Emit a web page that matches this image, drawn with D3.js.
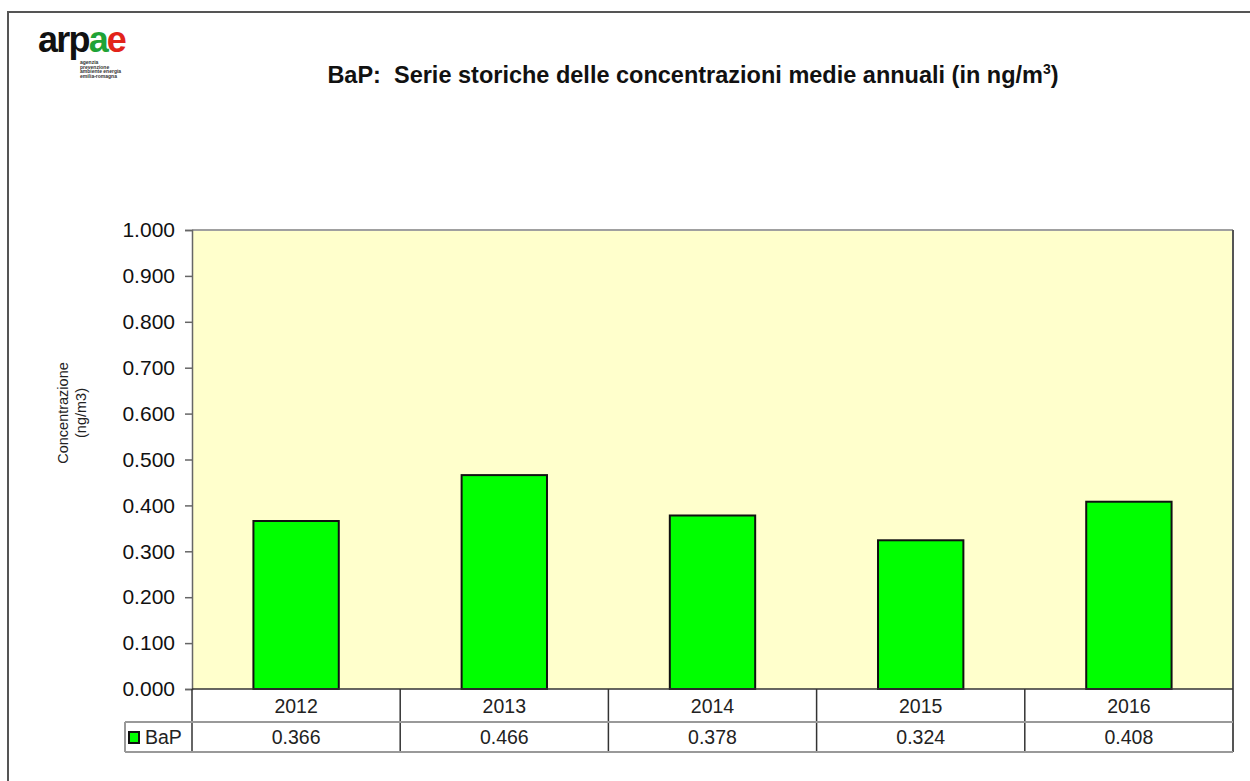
<!DOCTYPE html>
<html>
<head>
<meta charset="utf-8">
<script src="https://cdn.jsdelivr.net/npm/d3@7"></script>
<style>
  html, body { margin: 0; padding: 0; background: #fff; }
  svg { display: block; font-family: "Liberation Sans", Arial, sans-serif; }
</style>
</head>
<body>
<svg id="chart" width="1250" height="781"></svg>
<script>
const categories = ["2012", "2013", "2014", "2015", "2016"];
const values = [0.366, 0.466, 0.378, 0.324, 0.408];
const seriesName = "BaP";
const yTicks = [0, 0.1, 0.2, 0.3, 0.4, 0.5, 0.6, 0.7, 0.8, 0.9, 1.0];
const titleText = "BaP:  Serie storiche delle concentrazioni medie annuali (in ng/m";
const yLabelLines = ["Concentrazione", "(ng/m3)"];
const logoSubLines = ["agenzia", "prevenzione", "ambiente energia", "emilia-romagna"];

const svg = d3.select("#chart");
const W = 1250, H = 781;
const plot = { left: 192, right: 1233, top: 230, bottom: 689 };
const rowH1 = 33, rowH2 = 30;
const legendLeft = 125;

// outer frame (left and top only visible)
svg.append("path")
  .attr("d", `M8,${H} L8,12 L${W},12`)
  .attr("fill", "none").attr("stroke", "#555").attr("stroke-width", 2);

// logo
const logo = svg.append("text").attr("x", 38).attr("y", 52)
  .attr("font-family", "'Liberation Sans', Arial, sans-serif")
  .attr("font-weight", "bold").attr("font-size", 36).attr("letter-spacing", -1.8);
logo.append("tspan").attr("fill", "#111").text("arp");
logo.append("tspan").attr("fill", "#1fa336").text("a");
logo.append("tspan").attr("fill", "#e2231a").text("e");
svg.append("g").selectAll("text").data(logoSubLines).join("text")
  .attr("x", 80).attr("y", (d, i) => 64 + i * 4.6)
  .attr("font-size", 5).attr("font-weight", "bold").attr("fill", "#333")
  .text(d => d);

// title
const title = svg.append("text").attr("x", 693).attr("y", 83)
  .attr("text-anchor", "middle").attr("font-weight", "bold")
  .attr("font-size", 23.5).attr("fill", "#111")
  .style("white-space", "pre");
title.append("tspan").text(titleText);
title.append("tspan").attr("dy", -9).attr("font-size", 14).text("3");
title.append("tspan").attr("dy", 9).text(")");

// scales
const y = d3.scaleLinear().domain([0, 1]).range([plot.bottom, plot.top]);
const xCat = d3.scaleBand().domain(categories).range([plot.left, plot.right]).padding(0);
const xBar = d3.scaleBand().domain(categories).range([plot.left, plot.right])
  .paddingInner(0.59).paddingOuter(0.295);

// plot background
svg.append("rect")
  .attr("x", plot.left).attr("y", plot.top)
  .attr("width", plot.right - plot.left).attr("height", plot.bottom - plot.top)
  .attr("fill", "#ffffcc");
svg.append("line").attr("x1", plot.left).attr("x2", plot.right)
  .attr("y1", plot.top).attr("y2", plot.top).attr("stroke", "#a0a0a0").attr("stroke-width", 2);
svg.append("line").attr("x1", plot.right).attr("x2", plot.right)
  .attr("y1", plot.top).attr("y2", plot.bottom + rowH1 + rowH2).attr("stroke", "#555").attr("stroke-width", 2);

// bars
svg.append("g").selectAll("rect").data(values).join("rect")
  .attr("x", (d, i) => xBar(categories[i]))
  .attr("y", d => y(d))
  .attr("width", xBar.bandwidth())
  .attr("height", d => y(0) - y(d))
  .attr("fill", "#00ff00").attr("stroke", "#111").attr("stroke-width", 2);

// y axis
const yAxis = d3.axisLeft(y).tickValues(yTicks).tickFormat(d3.format(".3f")).tickSize(7).tickPadding(10);
const gy = svg.append("g").attr("transform", `translate(${plot.left},0)`).call(yAxis);
gy.select(".domain").attr("stroke", "#666").attr("stroke-width", 1.5);
gy.selectAll(".tick line").attr("stroke", "#666").attr("stroke-width", 1.5);
gy.selectAll(".tick text").attr("font-size", 21).attr("fill", "#111")
  .attr("font-family", "'Liberation Sans', Arial, sans-serif");

// x axis line at 0
svg.append("line").attr("x1", plot.left).attr("x2", plot.right)
  .attr("y1", y(0)).attr("y2", y(0)).attr("stroke", "#333").attr("stroke-width", 1.5);

// y label
const yl = svg.append("text")
  .attr("transform", "translate(68,413) rotate(-90)")
  .attr("text-anchor", "middle").attr("font-size", 14.5).attr("fill", "#222");
yl.selectAll("tspan").data(yLabelLines).join("tspan")
  .attr("x", 0).attr("dy", (d, i) => i === 0 ? 0 : 18).text(d => d);

// data table
const tTop = plot.bottom, tMid = plot.bottom + rowH1, tBot = plot.bottom + rowH1 + rowH2;
const table = svg.append("g");
table.selectAll("line.vsep").data(categories).join("line")
  .attr("class", "vsep")
  .attr("x1", d => xCat(d)).attr("x2", d => xCat(d))
  .attr("y1", tTop).attr("y2", tBot)
  .attr("stroke", "#333").attr("stroke-width", 1.5);
[tMid, tBot].forEach(yy => {
  table.append("line").attr("x1", legendLeft).attr("x2", plot.right)
    .attr("y1", yy).attr("y2", yy).attr("stroke", "#999").attr("stroke-width", 2);
});
table.append("line").attr("x1", legendLeft).attr("x2", legendLeft)
  .attr("y1", tMid).attr("y2", tBot).attr("stroke", "#999").attr("stroke-width", 2);

table.selectAll("text.cat").data(categories).join("text")
  .attr("class", "cat")
  .attr("x", d => xCat(d) + xCat.bandwidth() / 2)
  .attr("y", tTop + rowH1 / 2 + 7)
  .attr("text-anchor", "middle").attr("font-size", 19.5).attr("fill", "#222")
  .text(d => d);
table.selectAll("text.val").data(values).join("text")
  .attr("class", "val")
  .attr("x", (d, i) => xCat(categories[i]) + xCat.bandwidth() / 2)
  .attr("y", tMid + rowH2 / 2 + 7)
  .attr("text-anchor", "middle").attr("font-size", 19.5).attr("fill", "#222")
  .text(d => d3.format(".3f")(d));

// legend key
table.append("rect").attr("x", 129).attr("y", tMid + 10).attr("width", 10).attr("height", 11)
  .attr("fill", "#00ff00").attr("stroke", "#111").attr("stroke-width", 2);
table.append("text").attr("x", 145).attr("y", tMid + rowH2 / 2 + 7)
  .attr("font-size", 19.5).attr("fill", "#222").text(seriesName);
</script>
</body>
</html>
